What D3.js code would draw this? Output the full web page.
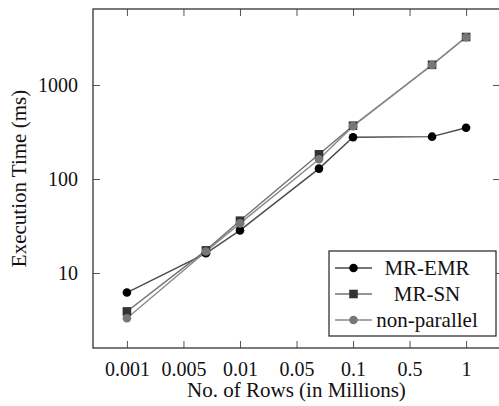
<!DOCTYPE html>
<html><head><meta charset="utf-8">
<script src="https://cdn.jsdelivr.net/npm/d3@7"></script>
<style>body{margin:0;background:#fff}svg{display:block}</style>
</head><body><div id="c"></div>
<script>
const xValues = [0.001, 0.005, 0.01, 0.05, 0.1, 0.5, 1];
const mrEmr = [6.2, 16.2, 28.4, 129, 278, 282, 351];
const mrSn = [3.9, 17.4, 36, 183, 369, 1640, 3240];
const nonParallel = [3.3, 16.9, 33.7, 162, 365, 1630, 3220];
const seriesNames = ["MR-EMR", "MR-SN", "non-parallel"];
const xTickValues = [1e-3, Math.pow(10,-2.5), 1e-2, Math.pow(10,-1.5), 1e-1, Math.pow(10,-0.5), 1];
const xTickLabels = ["0.001", "0.005", "0.01", "0.05", "0.1", "0.5", "1"];
const yTickValues = [10, 100, 1000];

const W = 499, H = 406;
const L = 93, R = 500, T = 9, B = 348;
const font = "Liberation Serif";
const svg = d3.select("#c").append("svg").attr("width", W).attr("height", H)
  .attr("font-family", font).style("font-family", font);

const x = d3.scaleLog().domain([Math.pow(10,-3.3), Math.pow(10,0.3)]).range([L, R]);
const y = d3.scaleLog().domain([Math.pow(10,0.202), Math.pow(10,3.8085)]).range([B, T]);

const styles = [
  {data: mrEmr, line: "#4a4a4a", fill: "#000", shape: "circle"},
  {data: mrSn, line: "#707070", fill: "#333", shape: "square"},
  {data: nonParallel, line: "#8a8a8a", fill: "#777", shape: "circle"}
];

const tickLen = 7;
const gx = svg.append("g").attr("transform", `translate(0,${B})`)
  .call(d3.axisBottom(x).tickValues(xTickValues).tickFormat((d,i)=>xTickLabels[i]).tickSizeInner(-tickLen).tickSizeOuter(0).tickPadding(14));
const gxt = svg.append("g").attr("transform", `translate(0,${T})`)
  .call(d3.axisTop(x).tickValues(xTickValues).tickFormat("").tickSizeInner(-tickLen).tickSizeOuter(0));
const gy = svg.append("g").attr("transform", `translate(${L},0)`)
  .call(d3.axisLeft(y).tickValues(yTickValues).tickFormat(d3.format("d")).tickSizeInner(-tickLen).tickSizeOuter(0).tickPadding(15));
const gyr = svg.append("g").attr("transform", `translate(${R},0)`)
  .call(d3.axisRight(y).tickValues(yTickValues).tickFormat("").tickSizeInner(-tickLen).tickSizeOuter(0));
[gx, gxt, gy, gyr].forEach(g => {
  g.attr("font-family", font).attr("font-size", 20);
  g.select(".domain").remove();
  g.selectAll(".tick line").attr("stroke", "#555").attr("stroke-width", 1);
  g.selectAll("text").attr("font-family", font).style("font-family", font).attr("font-size", 20).attr("fill", "#111");
});
svg.append("rect").attr("x", L).attr("y", T).attr("width", R - L).attr("height", B - T)
  .attr("fill", "none").attr("stroke", "#333").attr("stroke-width", 1.3);

const line = d3.line().x((d,i)=>x(xValues[i])).y(d=>y(d));
function marker(g, shape, cx, cy, fill) {
  if (shape === "circle") g.append("circle").attr("cx", cx).attr("cy", cy).attr("r", 4.3).attr("fill", fill);
  else g.append("rect").attr("x", cx-4.3).attr("y", cy-4.3).attr("width", 8.6).attr("height", 8.6).attr("fill", fill);
}
styles.forEach(s => {
  svg.append("path").datum(s.data).attr("d", line).attr("fill", "none")
    .attr("stroke", s.line).attr("stroke-width", 1.4);
});
styles.forEach(s => {
  const g = svg.append("g");
  s.data.forEach((v,i) => marker(g, s.shape, x(xValues[i]), y(v), s.fill));
});

const lg = svg.append("g");
lg.append("rect").attr("x", 329).attr("y", 251).attr("width", 167).attr("height", 85)
  .attr("fill", "#fff").attr("stroke", "#222").attr("stroke-width", 1.2);
seriesNames.forEach((n,i) => {
  const ly = 268 + i*26;
  lg.append("line").attr("x1", 335).attr("x2", 372).attr("y1", ly).attr("y2", ly)
    .attr("stroke", styles[i].line).attr("stroke-width", 1.4);
  marker(lg, styles[i].shape, 353.5, ly, styles[i].fill);
  lg.append("text").attr("x", 427).attr("y", ly).attr("dy", "0.35em").attr("text-anchor", "middle")
    .attr("font-family", font).style("font-family", font).attr("font-size", 21).attr("fill", "#111").text(n);
});

svg.append("text").attr("x", (L+R)/2).attr("y", 397).attr("text-anchor", "middle")
  .attr("font-family", font).style("font-family", font).attr("font-size", 21).attr("fill", "#111").text("No. of Rows (in Millions)");
svg.append("text").attr("transform", `translate(26,${(T+B)/2}) rotate(-90)`).attr("text-anchor", "middle")
  .attr("font-family", font).style("font-family", font).attr("font-size", 21).attr("fill", "#111").text("Execution Time (ms)");
</script></body></html>
